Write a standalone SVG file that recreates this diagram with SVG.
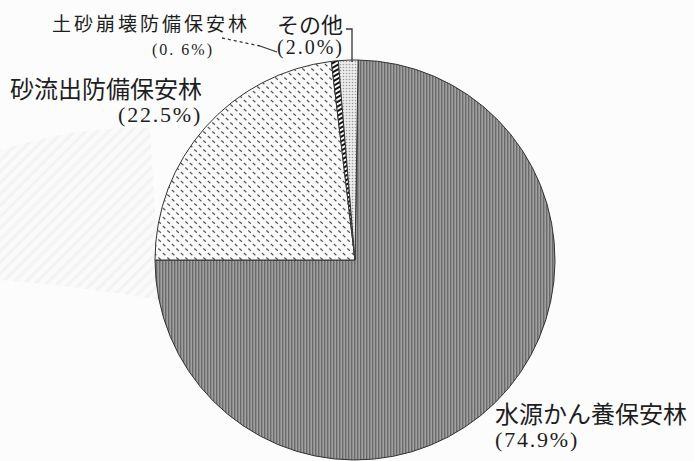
<svg xmlns="http://www.w3.org/2000/svg" width="694" height="461" viewBox="0 0 694 461">
  <style>
    .lbl { font-family: "Liberation Serif", "Noto Sans CJK JP", serif; fill: #1e1e1e; }
    .jp { font-size: 24px; }
    .pct { font-size: 22px; letter-spacing: 1.8px; }
    .slice { stroke: #333; stroke-width: 1; stroke-linejoin: round; }
    .lead { fill: none; stroke: #333; stroke-width: 1.3; }
  </style>
  <defs>
    <pattern id="pVert" width="3" height="10" patternUnits="userSpaceOnUse">
      <rect width="3" height="10" fill="#a0a0a0"/>
      <rect width="1.4" height="10" fill="#6a6a6a"/>
    </pattern>
    <pattern id="pPlate" width="9" height="9" patternUnits="userSpaceOnUse">
      <rect width="9" height="9" fill="#fbfbfb"/>
      <line x1="0.8" y1="1" x2="3.4" y2="3.2" stroke="#555" stroke-width="1.2"/>
      <line x1="5.3" y1="5.5" x2="7.9" y2="7.7" stroke="#555" stroke-width="1.2"/>
    </pattern>
    <pattern id="pHatch" width="4" height="4" patternUnits="userSpaceOnUse" patternTransform="rotate(-30)">
      <rect width="4" height="4" fill="#fff"/>
      <rect width="4" height="2" fill="#111"/>
    </pattern>
    <pattern id="pDots" width="3" height="3" patternUnits="userSpaceOnUse">
      <rect width="3" height="3" fill="#ececec"/>
      <circle cx="1.5" cy="1.5" r="0.8" fill="#9a9a9a"/>
    </pattern>
    <pattern id="pBg" width="8" height="8" patternUnits="userSpaceOnUse" patternTransform="rotate(45)">
      <rect width="8" height="8" fill="#f8f8f8"/>
      <rect width="3" height="8" fill="#ececec"/>
    </pattern>
  </defs>

  <rect width="694" height="461" fill="#fcfcfc"/>
  <path d="M0,150 Q80,125 150,128 L160,300 Q70,285 0,280 Z" fill="url(#pBg)" opacity="0.55"/>

  <g id="slice-water">
    <path class="slice" d="M355,260 L358.1,60 A200,200 0 1 1 155,260 Z" fill="url(#pVert)"/>
    <text class="lbl jp" x="495" y="423">水源かん養保安林</text>
    <text class="lbl pct" x="495" y="447">(74.9%)</text>
  </g>

  <g id="slice-sand">
    <path class="slice" d="M355,260 L155,260 A200,200 0 0 1 331.3,61.4 Z" fill="url(#pPlate)"/>
    <text class="lbl jp" x="10" y="98">砂流出防備保安林</text>
    <text class="lbl pct" x="118" y="122">(22.5%)</text>
  </g>

  <g id="slice-collapse">
    <path class="slice" d="M355,260 L331.3,61.4 A200,200 0 0 1 338.3,60.7 Z" fill="url(#pHatch)"/>
    <text class="lbl" x="52" y="31" style="font-size:19px;letter-spacing:3px">土砂崩壊防備保安林</text>
    <text class="lbl" x="152" y="55" style="font-size:16px;letter-spacing:2px">(0. 6%)</text>
  </g>

  <g id="slice-other">
    <path class="slice" d="M355,260 L338.3,60.7 A200,200 0 0 1 358.1,60 Z" fill="url(#pDots)"/>
    <text class="lbl" x="277" y="33" style="font-size:22px">その他</text>
    <text class="lbl" x="277" y="54" style="font-size:20px;letter-spacing:2px">(2.0%)</text>
  </g>

  <g id="connectors">
    <line class="lead" x1="222" y1="38" x2="260" y2="46" stroke-dasharray="3 3"/>
    <line class="lead" x1="260" y1="46" x2="277" y2="52"/>
    <polyline class="lead" points="346,29 352,29 352,62"/>
  </g>
</svg>
